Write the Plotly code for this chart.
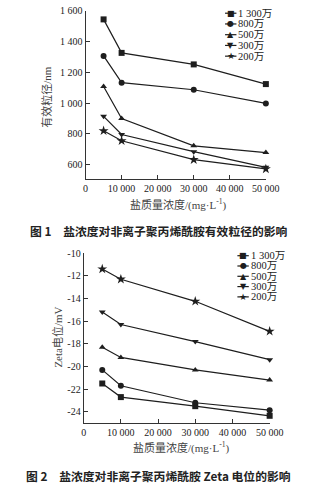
import plotly.graph_objects as go

conc = [5000, 10000, 30000, 50000]
series_names = ["1 300万", "800万", "500万", "300万", "200万"]
symbols = ["square", "circle", "triangle-up", "triangle-down", "star"]
legend_glyphs = ["■", "●", "▲", "▼", "★"]

size_1300 = [1545, 1327, 1252, 1124]
size_800 = [1307, 1133, 1087, 998]
size_500 = [1108, 900, 722, 678]
size_300 = [914, 796, 684, 582]
size_200 = [820, 755, 632, 572]
size_data = [size_1300, size_800, size_500, size_300, size_200]

zeta_1300 = [-21.5, -22.7, -23.5, -24.35]
zeta_800 = [-20.3, -21.7, -23.2, -23.85]
zeta_500 = [-18.3, -19.2, -20.3, -21.2]
zeta_300 = [-15.2, -16.3, -17.8, -19.4]
zeta_200 = [-11.4, -12.3, -14.25, -16.9]
zeta_data = [zeta_1300, zeta_800, zeta_500, zeta_300, zeta_200]

x_ticks = [0, 10000, 20000, 30000, 40000, 50000]
x_ticktext = ["0", "10 000", "20 000", "30 000", "40 000", "50 000"]
y1_ticks = [600, 800, 1000, 1200, 1400, 1600]
y1_ticktext = ["600", "800", "1 000", "1 200", "1 400", "1 600"]
y2_ticks = [-24, -22, -20, -18, -16, -14, -12, -10]
y2_ticktext = ["-24", "-22", "-20", "-18", "-16", "-14", "-12", "-10"]

serif = "Liberation Serif, Noto Sans CJK SC"
ink = "#1e1e1e"
W, H = 333, 488

fig = go.Figure()

for name, sym, ys in zip(series_names, symbols, size_data):
    fig.add_trace(go.Scatter(
        x=conc, y=ys, name=name, mode="lines+markers", showlegend=False,
        line=dict(color=ink, width=1.2),
        marker=dict(symbol=sym, size=6 if sym != "star" else 7.5, color=ink),
        xaxis="x", yaxis="y", cliponaxis=False))

for name, sym, ys in zip(series_names, symbols, zeta_data):
    fig.add_trace(go.Scatter(
        x=conc, y=ys, name=name, mode="lines+markers", showlegend=False,
        line=dict(color=ink, width=1.2),
        marker=dict(symbol=sym, size=6 if sym != "star" else 7.5, color=ink),
        xaxis="x2", yaxis="y2", cliponaxis=False))

axis_common = dict(showgrid=False, zeroline=False, showline=True, linecolor="#333",
                   linewidth=1, ticks="inside", ticklen=4, tickcolor="#333",
                   tickfont=dict(family=serif, size=10, color="#222"))

fig.update_layout(
    width=W, height=H,
    margin=dict(l=0, r=0, t=0, b=0),
    paper_bgcolor="white", plot_bgcolor="white",
    showlegend=False,
    xaxis=dict(domain=[87/W, 277/W], range=[0, 50000], tickvals=x_ticks,
               ticktext=x_ticktext, anchor="y", **axis_common),
    yaxis=dict(domain=[1-176/H, 1-6/H], range=[505, 1600], tickvals=y1_ticks,
               ticktext=y1_ticktext, anchor="x", **axis_common),
    xaxis2=dict(domain=[85/W, 281/W], range=[0, 50000], tickvals=x_ticks,
                ticktext=x_ticktext, anchor="y2", **axis_common),
    yaxis2=dict(domain=[1-422.5/H, 1-250.7/H], range=[-25, -10], tickvals=y2_ticks,
                ticktext=y2_ticktext, anchor="x2", **axis_common),
)

# compact legends (drawn as layout decorations)
legend_specs = [dict(x0=234, y0=8.3, dy=10.85), dict(x0=247, y0=253.3, dy=10.4)]
glyph_sizes = [8, 8, 8, 8, 9]
for spec in legend_specs:
    for i, (name, glyph) in enumerate(zip(series_names, legend_glyphs)):
        yy = spec["y0"] + i * spec["dy"]
        fig.add_shape(type="line", xref="paper", yref="paper",
                      x0=spec["x0"]/W, x1=(spec["x0"]+12)/W, y0=1-yy/H, y1=1-yy/H,
                      line=dict(color=ink, width=1.2))
        fig.add_annotation(xref="paper", yref="paper", showarrow=False,
                           x=(spec["x0"]+6)/W, y=1-yy/H, xanchor="center", yanchor="middle",
                           text=glyph, font=dict(family="DejaVu Sans", size=glyph_sizes[i], color=ink))
        fig.add_annotation(xref="paper", yref="paper", showarrow=False,
                           x=(spec["x0"]+12)/W, y=1-yy/H, xanchor="left", yanchor="middle",
                           text=name, font=dict(family=serif, size=10.5, color="#222"))

annots = [
    dict(text="有效粒径/nm", x=45/W, y=1-93/H, textangle=-90,
         font=dict(family=serif, size=11, color="#444")),
    dict(text="盐质量浓度/(mg·L<sup>-1</sup>)", x=185/W, y=1-202/H,
         font=dict(family=serif, size=11, color="#444")),
    dict(text="<b>图 1　盐浓度对非离子聚丙烯酰胺有效粒径的影响</b>", x=164/W, y=1-228/H,
         font=dict(family="Noto Sans CJK SC", size=11.8, color="#222")),
    dict(text="Zeta电位/mV", x=58/W, y=1-336/H, textangle=-90,
         font=dict(family=serif, size=11, color="#444")),
    dict(text="盐质量浓度/(mg·L<sup>-1</sup>)", x=188/W, y=1-447/H,
         font=dict(family=serif, size=11, color="#444")),
    dict(text="<b>图 2　盐浓度对非离子聚丙烯酰胺 Zeta 电位的影响</b>", x=164/W, y=1-475/H,
         font=dict(family="Noto Sans CJK SC", size=11.8, color="#222")),
]
for a in annots:
    fig.add_annotation(xref="paper", yref="paper", showarrow=False,
                       xanchor="center", yanchor="middle", **a)

fig.write_html("out.html")
